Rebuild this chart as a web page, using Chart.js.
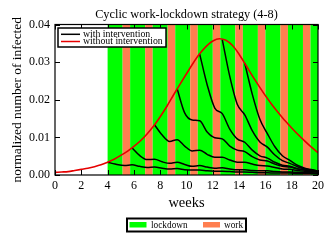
<!DOCTYPE html>
<html>
<head>
<meta charset="utf-8">
<script src="https://cdn.jsdelivr.net/npm/chart.js@4/dist/chart.umd.min.js"></script>
<style>
    html, body { margin: 0; padding: 0; background: #fff; }
    #wrap { width: 333px; height: 242px; }
</style>
</head>
<body>
<div id="wrap"><canvas id="chart" width="333" height="242"></canvas></div>
<script>
// weeks for the uncontrolled epidemic curve
const redWeeks = [0, 0.5, 1, 1.5, 2, 2.5, 3, 3.5, 4, 4.5, 5, 5.5, 6, 6.5, 7, 7.5, 8, 8.5, 9, 9.5,
    10, 10.5, 11, 11.5, 12, 12.5, 13, 13.5, 14, 14.5, 15, 15.5, 16, 16.5, 17, 17.5, 18, 18.5, 19, 19.5, 20];
const withoutIntervention = [0.0007, 0.0008, 0.0009, 0.0012, 0.0015, 0.0018, 0.0022, 0.0027, 0.0034, 0.0042,
    0.0052, 0.0063, 0.0076, 0.0091, 0.0109, 0.0130, 0.0155, 0.0182, 0.0212, 0.0241,
    0.0269, 0.0297, 0.0322, 0.0342, 0.0356, 0.0362, 0.0358, 0.0344, 0.0321, 0.0293,
    0.0264, 0.0237, 0.0211, 0.0187, 0.0165, 0.0144, 0.0125, 0.0107, 0.0090, 0.0074, 0.0059];

// sample weeks shared by the intervention runs
const runWeeks = [4, 4.57, 5.29, 5.86, 6.43, 7.0, 7.58, 8.15, 8.72, 9.29, 9.86, 10.43, 11.0, 11.57,
    12.15, 12.72, 13.29, 13.86, 14.43, 15.0, 15.58, 16.15, 16.72, 17.29, 17.86, 18.43, 19.0, 19.58, 20];
const _ = null;
const run1 = [0.0034, 0.0029, 0.0025, 0.0027, 0.0023, 0.0020, 0.0021, 0.0018, 0.0016, 0.0017, 0.0014, 0.0013,
    0.0013, 0.0011, 0.0010, 0.0010, 0.0009, 0.0008, 0.0008, 0.0007, 0.0006, 0.0006, 0.0005, 0.0005, 0.0005,
    0.0004, 0.0004, 0.0004, 0.0003];
const run2 = [_, _, _, 0.0072, 0.0052, 0.0041, 0.0042, 0.0035, 0.0031, 0.0034, 0.0028, 0.0023, 0.0025, 0.0021,
    0.0018, 0.0019, 0.0016, 0.0014, 0.0014, 0.0012, 0.0011, 0.0011, 0.0009, 0.0008, 0.0008, 0.0007, 0.0006,
    0.0006, 0.0005];
const run3 = [_, _, _, _, _, _, 0.0133, 0.0106, 0.0089, 0.0094, 0.0077, 0.0064, 0.0066, 0.0055, 0.0047, 0.0047,
    0.0040, 0.0034, 0.0034, 0.0029, 0.0025, 0.0024, 0.0020, 0.0016, 0.0015, 0.0012, 0.0010, 0.0009, 0.0007];
const run4 = [_, _, _, _, _, _, _, _, _, 0.0229, 0.0165, 0.0146, 0.0144, 0.0114, 0.0099, 0.0096, 0.0077,
    0.0066, 0.0062, 0.0049, 0.0040, 0.0037, 0.0029, 0.0023, 0.0021, 0.0016, 0.0013, 0.0011, 0.0008];
const run5 = [_, _, _, _, _, _, _, _, _, _, _, _, 0.0322, 0.0240, 0.0178, 0.0163, 0.0122, 0.0096, 0.0087,
    0.0066, 0.0051, 0.0045, 0.0034, 0.0026, 0.0023, 0.0017, 0.0013, 0.0011, 0.0008];
const run6 = [_, _, _, _, _, _, _, _, _, _, _, _, _, _, _, 0.0360, 0.0262, 0.0188, 0.0160, 0.0118, 0.0088,
    0.0074, 0.0053, 0.0038, 0.0031, 0.0022, 0.0016, 0.0013, 0.0010];
const run7 = [_, _, _, _, _, _, _, _, _, _, _, _, _, _, _, _, _, _, 0.0297, 0.0215, 0.0148, 0.0110, 0.0075,
    0.0051, 0.0039, 0.0026, 0.0018, 0.0014, 0.0010];

// lockdown / work cycle (4 days work, 8 days lockdown) starting at week 4
const bandEdges = [4, 5.143, 5.714, 6.857, 7.429, 8.571, 9.143, 10.286, 10.857, 12, 12.571, 13.714,
    14.286, 15.429, 16, 17.143, 17.714, 18.857, 19.429, 20];
const bandKinds = ["lockdown", "work", "lockdown", "work", "lockdown", "work", "lockdown", "work",
    "lockdown", "work", "lockdown", "work", "lockdown", "work", "lockdown", "work", "lockdown", "work", "lockdown"];

const xTicks = [0, 2, 4, 6, 8, 10, 12, 14, 16, 18, 20];
const yTicks = [0, 0.01, 0.02, 0.03, 0.04];

const FONT = "'Liberation Serif', 'Times New Roman', serif";
const GREEN = "#00ff00";
const CORAL = "#ff7f50";
const RED = "#e60000";

function points(xs, ys) {
    return xs.map((x, i) => ({ x: x, y: ys[i] })).filter((p) => p.y !== null);
}

const runs = [run1, run2, run3, run4, run5, run6, run7];

const datasets = [{
    label: "without intervention",
    data: points(redWeeks, withoutIntervention),
    borderColor: RED,
    borderWidth: 1.6,
    pointRadius: 0,
    cubicInterpolationMode: "monotone",
}].concat(runs.map((r) => ({
    label: "with intervention",
    data: points(runWeeks, r),
    borderColor: "#000",
    borderWidth: 1.5,
    pointRadius: 0,
    cubicInterpolationMode: "monotone",
})));

const stripes = {
    id: "stripes",
    beforeDatasetsDraw(chart) {
        const { ctx, chartArea: a, scales: { x } } = chart;
        ctx.save();
        for (let i = 0; i < bandKinds.length; i++) {
            const x0 = x.getPixelForValue(bandEdges[i]);
            const x1 = x.getPixelForValue(bandEdges[i + 1]);
            ctx.fillStyle = bandKinds[i] === "work" ? CORAL : GREEN;
            ctx.fillRect(x0, a.top, x1 - x0, a.bottom - a.top);
        }
        ctx.restore();
    },
};

const frame = {
    id: "frame",
    afterDatasetsDraw(chart) {
        const { ctx, chartArea: a, scales: { x, y } } = chart;
        ctx.save();
        ctx.strokeStyle = "#000";
        ctx.lineWidth = 1;
        ctx.beginPath();
        xTicks.forEach((v) => {
            const px = Math.round(x.getPixelForValue(v)) + 0.5;
            ctx.moveTo(px, a.bottom); ctx.lineTo(px, a.bottom - 5);
            ctx.moveTo(px, a.top); ctx.lineTo(px, a.top + 5);
        });
        yTicks.forEach((v) => {
            const py = Math.round(y.getPixelForValue(v)) + 0.5;
            ctx.moveTo(a.left, py); ctx.lineTo(a.left + 5, py);
            ctx.moveTo(a.right, py); ctx.lineTo(a.right - 5, py);
        });
        ctx.stroke();
        ctx.lineWidth = 1.2;
        ctx.strokeRect(a.left, a.top, a.right - a.left, a.bottom - a.top);

        // legend inside the plot
        const lx = a.left + 3, ly = a.top + 3.5;
        ctx.fillStyle = "#fff";
        ctx.fillRect(lx, ly, 108, 19);
        ctx.lineWidth = 1.5;
        ctx.strokeRect(lx, ly, 108, 19);
        ctx.lineWidth = 1.5;
        ctx.strokeStyle = "#000";
        ctx.beginPath(); ctx.moveTo(lx + 3, ly + 6.3); ctx.lineTo(lx + 22, ly + 6.3); ctx.stroke();
        ctx.strokeStyle = RED;
        ctx.beginPath(); ctx.moveTo(lx + 3, ly + 13.5); ctx.lineTo(lx + 22, ly + 13.5); ctx.stroke();
        ctx.fillStyle = "#000";
        ctx.font = "9.8px " + FONT;
        ctx.textBaseline = "middle";
        ctx.textAlign = "left";
        ctx.fillText("with intervention", lx + 25, ly + 6.3);
        ctx.fillText("without intervention", lx + 25, ly + 13.5);
        ctx.restore();
    },
    afterDraw(chart) {
        const { ctx, chartArea: a } = chart;
        ctx.save();
        ctx.fillStyle = "#000";
        ctx.textAlign = "center";
        ctx.textBaseline = "middle";
        ctx.font = "12.3px " + FONT;
        ctx.fillText("Cyclic work-lockdown strategy (4-8)", (a.left + a.right) / 2, 14.5);

        // phase legend below the axis
        const bx = 127, by = 218.5;
        ctx.lineWidth = 2;
        ctx.strokeStyle = "#000";
        ctx.strokeRect(bx, by, 119, 13);
        ctx.fillStyle = GREEN;
        ctx.fillRect(bx + 2.5, by + 3.5, 17, 5.5);
        ctx.fillStyle = CORAL;
        ctx.fillRect(bx + 76, by + 3.5, 17, 5.5);
        ctx.fillStyle = "#000";
        ctx.textAlign = "left";
        ctx.font = "9.3px " + FONT;
        ctx.fillText("lockdown", bx + 24, by + 6.8);
        ctx.fillText("work", bx + 97, by + 6.8);
        ctx.restore();
    },
};

new Chart(document.getElementById("chart"), {
    type: "line",
    data: { datasets: datasets },
    options: {
        responsive: false,
        animation: false,
        devicePixelRatio: 1,
        layout: { padding: { left: 0, right: 15, top: 24.5, bottom: 30.3 } },
        plugins: { legend: { display: false }, tooltip: { enabled: false } },
        scales: {
            x: {
                type: "linear",
                min: 0,
                max: 20,
                border: { display: false },
                grid: { display: false, drawTicks: false },
                ticks: {
                    stepSize: 2,
                    padding: 4,
                    color: "#000",
                    font: { family: FONT, size: 12 },
                },
                title: {
                    display: true,
                    text: "weeks",
                    color: "#000",
                    font: { family: FONT, size: 14.5 },
                    padding: { top: 0, bottom: 0 },
                },
                afterFit: (s) => { s.height = 36.7; },
            },
            y: {
                min: 0,
                max: 0.04,
                border: { display: false },
                grid: { display: false, drawTicks: false },
                ticks: {
                    stepSize: 0.01,
                    padding: 5,
                    color: "#000",
                    font: { family: FONT, size: 12 },
                    callback: (v) => v.toFixed(2),
                },
                title: {
                    display: true,
                    text: "normalized number of infected",
                    color: "#000",
                    font: { family: FONT, size: 13.4 },
                    padding: { top: 9.5, bottom: 0 },
                },
                afterFit: (s) => { s.width = 55; },
            },
        },
    },
    plugins: [stripes, frame],
});
</script>
</body>
</html>
